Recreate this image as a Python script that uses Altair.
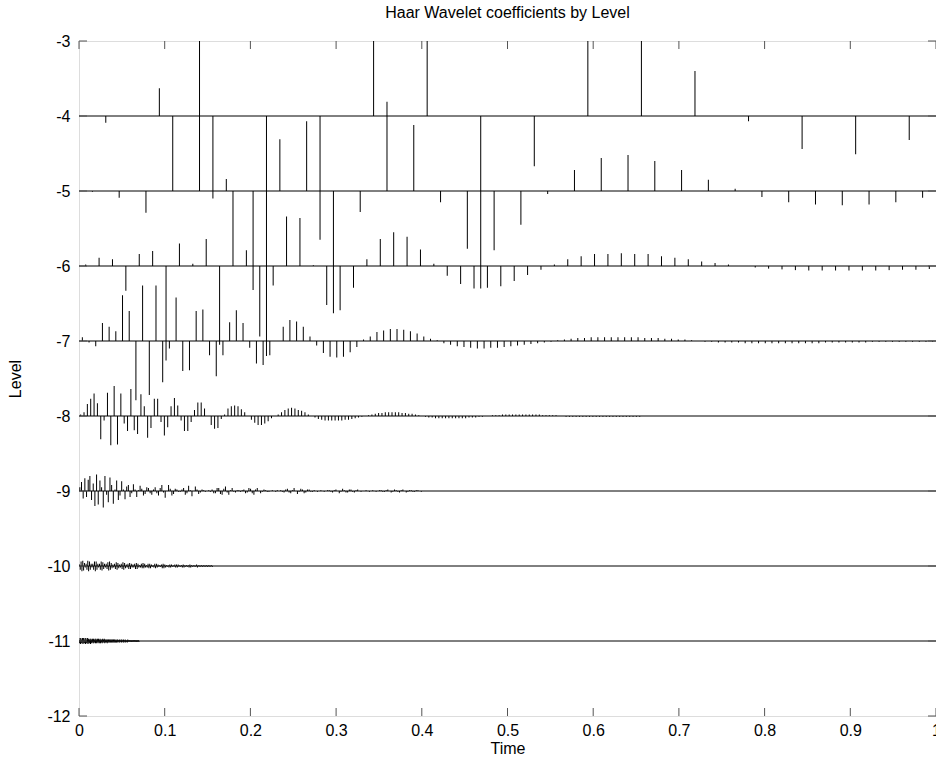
import altair as alt
import pandas as pd

TITLE = "Haar Wavelet coefficients by Level"
X_TICKS = [0, 0.1, 0.2, 0.3, 0.4, 0.5, 0.6, 0.7, 0.8, 0.9, 1]
Y_TICKS = [-12, -11, -10, -9, -8, -7, -6, -5, -4, -3]
LEVELS = [4, 5, 6, 7, 8, 9, 10, 11]

# coefficient heights in "level" units, coefficient k sits at t=(k+0.5)/2^j
L4 = [-0.09, 0.37, -1.10, -3.2, -1.65, 1.3, 1.3, -2.30,
      -0.67, 1.2, 1.4, 0.60, -0.07, -0.44, -0.51, -0.32]
L5 = [-0.01, -0.09, -0.29, 1.0, 2.4, 0.16, -1.32, 0.69,
      0.93, -1.63, -0.28, 1.19, 0.88, -0.15, -0.77, -0.79,
      -0.45, -0.04, 0.28, 0.44, 0.48, 0.40, 0.28, 0.15,
      0.03, -0.08, -0.15, -0.18, -0.19, -0.18, -0.15, -0.09]
L6 = [0.02, 0.11, 0.09, -0.33, 0.16, 0.20, -1.26, 0.30,
      0.03, 0.36, -1.05, 1.00, 0.21, -0.94, -0.26, 0.66,
      0.64, 0.01, -0.52, -0.59, -0.29, 0.09, 0.36, 0.45,
      0.39, 0.22, 0.03, -0.13, -0.24, -0.30, -0.29, -0.27,
      -0.20, -0.12, -0.05, 0.02, 0.09, 0.13, 0.16, 0.16,
      0.17, 0.16, 0.16, 0.13, 0.11, 0.09, 0.06, 0.04,
      0.02, 0.0, -0.02, -0.035, -0.045, -0.055, -0.06, -0.06,
      -0.06, -0.06, -0.06, -0.06, -0.055, -0.05, -0.05, -0.04]
L7 = [0.05, -0.02, -0.07, 0.24, 0.19, 0.13, 0.61, 0.40,
      -0.79, 0.74, -0.72, 0.74, -0.55, -0.10, 0.58, -0.40,
      -0.39, 0.40, 0.42, -0.19, -0.47, -0.19, 0.25, 0.41,
      0.24, -0.09, -0.30, -0.32, -0.19, 0.0, 0.19, 0.28,
      0.26, 0.19, 0.06, -0.06, -0.16, -0.21, -0.22, -0.21,
      -0.15, -0.08, 0.02, 0.06, 0.12, 0.14, 0.16, 0.16,
      0.15, 0.13, 0.10, 0.06, 0.03, 0.01, -0.03, -0.05,
      -0.07, -0.08, -0.09, -0.10, -0.10, -0.09, -0.09, -0.08,
      -0.07, -0.06, -0.05, -0.04, -0.03, -0.02, -0.01, 0.01,
      0.02, 0.03, 0.04, 0.04, 0.05, 0.05, 0.05, 0.05,
      0.05, 0.05, 0.05, 0.05, 0.04, 0.04, 0.04, 0.03,
      0.03, 0.02, 0.02, 0.01, 0.0, -0.01, -0.01, -0.02,
      -0.02, -0.02, -0.02, -0.03, -0.03, -0.03, -0.03, -0.03,
      -0.03, -0.03, -0.03, -0.03, -0.03, -0.03, -0.03, -0.02,
      -0.02, -0.02, -0.02, -0.02, -0.02, -0.02, -0.01, -0.01,
      -0.01, -0.01, -0.01, -0.01, -0.01, -0.01, -0.01, -0.01]
L8 = [0.02, 0.05, 0.16, 0.23, 0.30, 0.17, -0.31, -0.06,
      0.31, -0.39, 0.40, -0.38, 0.30, -0.10, -0.20, 0.36,
      -0.19, -0.24, 0.29, 0.13, -0.29, -0.16, 0.23, 0.23,
      -0.08, -0.26, -0.15, 0.13, 0.24, 0.14, -0.06, -0.20,
      -0.20, -0.08, 0.08, 0.18, 0.18, 0.10, 0.0, -0.12,
      -0.17, -0.16, -0.04, 0.02, 0.10, 0.13, 0.14, 0.13,
      0.09, 0.05, 0.0, -0.05, -0.09, -0.12, -0.12, -0.10,
      -0.07, -0.03, 0.0, 0.02, 0.05, 0.08, 0.10, 0.11,
      0.10, 0.08, 0.07, 0.05, 0.02, 0.0, -0.02, -0.04,
      -0.05, -0.06, -0.06, -0.06, -0.06, -0.06, -0.06, -0.05,
      -0.05, -0.04, -0.03, -0.02, -0.01, 0.0, 0.01, 0.02,
      0.03, 0.04, 0.04, 0.05, 0.05, 0.05, 0.05, 0.05,
      0.04, 0.04, 0.03, 0.03, 0.02, 0.01, 0.0, -0.01,
      -0.02, -0.02, -0.03, -0.03, -0.03, -0.03, -0.03, -0.03,
      -0.03, -0.03, -0.03, -0.03, -0.02, -0.02, -0.02, -0.01,
      -0.01, 0.0, 0.0, 0.01, 0.01, 0.01, 0.02, 0.02,
      0.02, 0.02, 0.02, 0.02, 0.02, 0.02, 0.02, 0.02,
      0.02, 0.02, 0.01, 0.01, 0.01, 0.01, 0.01, 0.0,
      0.0, -0.01, -0.01, -0.01, -0.01, -0.01, -0.01, -0.01,
      -0.01, -0.01, -0.01, -0.01, -0.01, -0.01, -0.01, -0.01,
      -0.01, -0.01, -0.01, -0.01, -0.01, -0.01, -0.01, -0.01]
L9 = [0.05, 0.12, -0.10, 0.17, -0.08, 0.15, 0.20, -0.12,
      0.10, -0.20, 0.22, -0.18, 0.14, 0.05, -0.22, 0.20,
      -0.05, -0.15, 0.18, 0.08, -0.17, 0.02, 0.14, -0.12,
      -0.06, 0.13, 0.02, -0.11, 0.06, 0.08, -0.08, -0.03,
      0.09, 0.02, -0.08, 0.01, 0.07, 0.03, -0.06, -0.04,
      0.05, 0.04, -0.03, -0.05, 0.02, 0.05,
      -0.03, -0.06, 0.04, 0.08, -0.02, -0.09, 0.0, 0.08, 0.03, -0.06, -0.04,
      0.03, 0.02, -0.01, -0.01,
      0.02, 0.04, -0.05, -0.03, 0.07, 0.01, -0.07, 0.0, 0.06, 0.02, -0.04, -0.02,
      0.02, 0.01, -0.01, 0.0, 0.01, -0.01,
      0.02, -0.03, -0.03, 0.04, 0.04, -0.04, -0.05, 0.03, 0.06, -0.02, -0.05,
      0.01, 0.04, -0.01,
      -0.02, 0.01, 0.01, -0.01,
      0.01, 0.02, -0.03, -0.02, 0.04, 0.03, -0.03, -0.05, 0.02, 0.04, 0.0,
      -0.03, -0.01, 0.02,
      0.01, -0.01, -0.01, 0.0, 0.01, 0.0, -0.01, 0.01, 0.0,
      0.01, -0.01, -0.02, 0.02, 0.03, -0.02, -0.03, 0.01, 0.04, 0.0, -0.04,
      -0.01, 0.03, 0.02, -0.03, -0.02, 0.02, 0.02, -0.01,
      -0.01, 0.01, 0.0, -0.01, 0.0, 0.01, 0.0, -0.01, 0.0,
      0.01, 0.01, -0.01, -0.02, 0.01, 0.02, 0.0, -0.03, -0.01, 0.03, 0.01,
      -0.02, -0.02, 0.02, 0.02, -0.01, -0.02, 0.01, 0.02, 0.0, -0.01, 0.0,
      0.0, 0.01, 0.0, -0.01, 0.0, 0.01, 0.0, -0.01, 0.0,
      0.01, 0.01, -0.01, -0.01, 0.01, 0.02, 0.0, -0.02, -0.01, 0.02, 0.01,
      -0.01, -0.02, 0.01, 0.02, 0.0, -0.02, -0.01, 0.01, 0.01, -0.01, -0.01,
      0.01, 0.01, 0.0, -0.01, 0.0]
L10 = [0.02, -0.05, 0.06, -0.07, 0.07, -0.06, 0.04, -0.02,
       0.03, -0.05, 0.07, -0.07, 0.06, -0.05, 0.03, -0.02,
       0.03, -0.05, 0.06, -0.07, 0.06, -0.05, 0.03, -0.02,
       0.03, -0.05, 0.06, -0.06, 0.05, -0.04, 0.03, -0.02,
       0.03, -0.04, 0.05, -0.06, 0.06, -0.05, 0.04, -0.03,
       0.02, -0.02, 0.03, -0.04, 0.05, -0.05, 0.04, -0.03,
       0.02, -0.02, 0.03, -0.04, 0.05, -0.05, 0.04, -0.03,
       0.02, -0.02, 0.03, -0.04, 0.04, -0.04, 0.03, -0.02,
       0.02, -0.02, 0.03, -0.04, 0.04, -0.04, 0.03, -0.02,
       0.01, -0.02, 0.03, -0.03, 0.04, -0.03, 0.03, -0.02,
       0.01, -0.02, 0.03, -0.03, 0.03, -0.03, 0.02, -0.01,
       0.01, -0.02, 0.03, -0.03, 0.03, -0.02, 0.02, -0.01,
       0.01, -0.01, 0.02, -0.03, 0.03, -0.03, 0.02, -0.02,
       0.01, -0.01, 0.01, -0.02, 0.02, -0.02, 0.02, -0.01,
       0.01, -0.01, 0.02, -0.02, 0.02, -0.02, 0.02, -0.01,
       0.01, -0.01, 0.01, -0.02, 0.02, -0.02, 0.01, -0.01,
       0.01, -0.01, 0.01, -0.02, 0.02, -0.02, 0.01, -0.01,
       0.01, -0.01, 0.01, -0.01, 0.02, -0.02, 0.01, -0.01,
       0.01, -0.01, 0.01, -0.01, 0.01, -0.01, 0.01, -0.01,
       0.01, -0.01, 0.01, -0.01, 0.01, -0.01, 0.01, -0.01]
L11 = [0.01, -0.03, 0.04, -0.04, 0.04, -0.03, 0.02, -0.03,
       0.04, -0.04, 0.04, -0.03, 0.02, -0.03, 0.04, -0.04,
       0.04, -0.03, 0.02, -0.03, 0.04, -0.04, 0.03, -0.03,
       0.02, -0.03, 0.03, -0.04, 0.03, -0.03, 0.02, -0.02,
       0.03, -0.03, 0.03, -0.03, 0.02, -0.02, 0.03, -0.03,
       0.03, -0.03, 0.02, -0.02, 0.03, -0.03, 0.03, -0.02,
       0.02, -0.03, 0.03, -0.03, 0.02, -0.02, 0.02, -0.03,
       0.03, -0.02, 0.02, -0.02, 0.03, -0.03, 0.02, -0.02,
       0.02, -0.02, 0.02, -0.03, 0.02, -0.02, 0.02, -0.02,
       0.02, -0.02, 0.02, -0.02, 0.02, -0.02, 0.02, -0.02,
       0.02, -0.02, 0.02, -0.02, 0.02, -0.02, 0.02, -0.02,
       0.01, -0.02, 0.02, -0.02, 0.02, -0.01, 0.01, -0.02,
       0.02, -0.02, 0.01, -0.01, 0.02, -0.02, 0.02, -0.01,
       0.01, -0.02, 0.02, -0.02, 0.01, -0.01, 0.02, -0.02,
       0.01, -0.01, 0.01, -0.02, 0.02, -0.01, 0.01, -0.01,
       0.01, -0.01, 0.01, -0.01, 0.01, -0.01, 0.01, -0.01,
       0.01, -0.01, 0.01, -0.01, 0.01, -0.01, 0.01, -0.01,
       0.01, -0.01, 0.01, -0.01, 0.01, -0.01, 0.01, -0.01]

COEFFS = {4: L4, 5: L5, 6: L6, 7: L7, 8: L8, 9: L9, 10: L10, 11: L11}

rows = []
for j, vals in COEFFS.items():
    n = 2 ** j
    for k, v in enumerate(vals):
        rows.append({"t": (k + 0.5) / n, "base": -j, "tip": -j + v})
coef_df = pd.DataFrame(rows)

base_df = pd.DataFrame({"lev": [-j for j in LEVELS], "x0": 0.0, "x1": 1.0})
xt_df = pd.DataFrame({"v": X_TICKS})
yt_df = pd.DataFrame({"v": Y_TICKS})

W, H = 857, 675
FONT = "Liberation Sans"
FS = 16

xscale = alt.Scale(domain=[0, 1], nice=False, zero=False)
yscale = alt.Scale(domain=[-12, -3], nice=False, zero=False)

xaxis = alt.Axis(values=X_TICKS, labelExpr="'' + datum.value", grid=False,
                 ticks=False, domain=False, labelFont=FONT, labelFontSize=FS,
                 labelColor="black", labelPadding=6, title="Time",
                 titleFont=FONT, titleFontSize=FS, titleFontWeight="normal",
                 titleColor="black", titlePadding=2, labelFlush=False)
yaxis = alt.Axis(values=Y_TICKS, labelExpr="'' + datum.value", grid=False,
                 ticks=False, domain=False, labelFont=FONT, labelFontSize=FS,
                 labelColor="black", labelPadding=9, title="Level",
                 titleFont=FONT, titleFontSize=FS, titleFontWeight="normal",
                 titleColor="black", titlePadding=23, labelFlush=False)

coef = alt.Chart(coef_df).mark_rule(color="black", strokeWidth=1, clip=True).encode(
    x=alt.X("t:Q", scale=xscale, axis=xaxis),
    y=alt.Y("base:Q", scale=yscale, axis=yaxis),
    y2="tip:Q",
)

baselines = alt.Chart(base_df).mark_rule(color="black", strokeWidth=1).encode(
    x=alt.X("x0:Q", scale=xscale),
    x2="x1:Q",
    y=alt.Y("lev:Q", scale=yscale),
)

tick_style = dict(color="#555555", strokeWidth=1)
xt_bot = alt.Chart(xt_df).mark_rule(**tick_style).encode(
    x=alt.X("v:Q", scale=xscale), y=alt.value(H), y2=alt.value(H - 8))
xt_top = alt.Chart(xt_df).mark_rule(**tick_style).encode(
    x=alt.X("v:Q", scale=xscale), y=alt.value(0), y2=alt.value(8))
yt_left = alt.Chart(yt_df).mark_rule(**tick_style).encode(
    y=alt.Y("v:Q", scale=yscale), x=alt.value(0), x2=alt.value(8))
yt_right = alt.Chart(yt_df).mark_rule(**tick_style).encode(
    y=alt.Y("v:Q", scale=yscale), x=alt.value(W), x2=alt.value(W - 8))

chart = alt.layer(coef, baselines, xt_bot, xt_top, yt_left, yt_right).properties(
    width=W, height=H,
    title=alt.TitleParams(TITLE, font=FONT, fontSize=FS, fontWeight="normal",
                          color="black", anchor="middle", offset=12),
    autosize=alt.AutoSizeParams(type="none"),
    padding={"left": 79, "top": 41, "right": 0, "bottom": 57},
).configure_view(stroke="black", strokeWidth=1).configure(background="white")

chart.save("out.html", embed_options={"renderer": "svg", "actions": False})
